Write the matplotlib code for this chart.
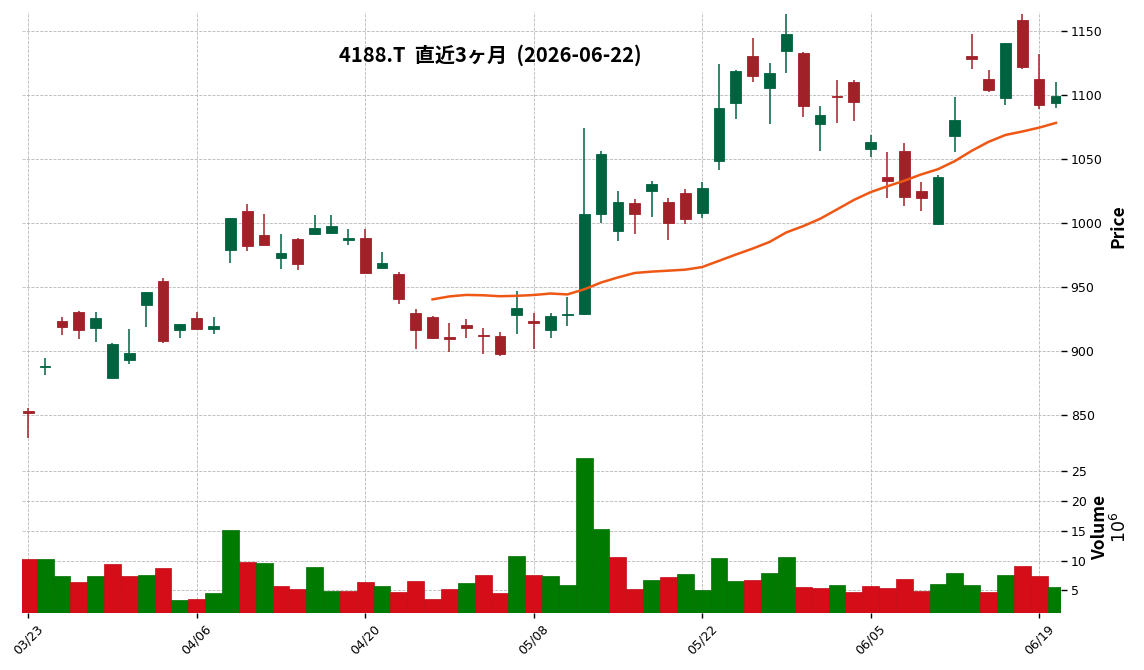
import numpy as np
import pandas as pd
import matplotlib
matplotlib.use("Agg")
import matplotlib.pyplot as plt
from matplotlib.colors import to_rgb

# ---------------- data ----------------
dates = ["03/23", "03/24", "03/25", "03/26", "03/27", "03/30", "03/31", "04/01", "04/02", "04/03",
         "04/06", "04/07", "04/08", "04/09", "04/10", "04/13", "04/14", "04/15", "04/16", "04/17",
         "04/20", "04/21", "04/22", "04/23", "04/24", "04/27", "04/28", "04/30", "05/01", "05/07",
         "05/08", "05/11", "05/12", "05/13", "05/14", "05/15", "05/18", "05/19", "05/20", "05/21",
         "05/22", "05/25", "05/26", "05/27", "05/28", "05/29", "06/01", "06/02", "06/03", "06/04",
         "06/05", "06/08", "06/09", "06/10", "06/11", "06/12", "06/15", "06/16", "06/17", "06/18",
         "06/19", "06/22"]

opens = [853.1, 887.5, 923.7, 930.7, 917.7, 879.2, 892.7, 935.7, 954.9, 916.1,
         926.0, 916.9, 979.4, 1009.6, 990.9, 972.4, 987.8, 991.9, 992.7, 987.2,
         988.5, 964.6, 960.4, 929.9, 926.8, 910.9, 920.6, 912.8, 911.7, 927.9,
         923.7, 916.1, 928.1, 929.2, 1006.8, 993.5, 1015.9, 1025.5, 1016.7, 1023.7,
         1007.6, 1048.4, 1094.0, 1130.6, 1105.8, 1134.8, 1133.2, 1077.5, 1099.7, 1110.2,
         1057.9, 1036.4, 1056.5, 1025.1, 999.7, 1068.1, 1130.6, 1112.6, 1097.9, 1158.9,
         1112.6, 1094.0]
highs = [855.2, 894.3, 926.6, 931.5, 930.5, 906.5, 917.2, 946.4, 957.0, 921.4,
         930.5, 926.6, 1004.2, 1014.8, 1007.0, 991.4, 988.3, 1006.5, 1006.5, 995.3,
         995.3, 977.3, 961.5, 932.6, 927.3, 921.9, 925.0, 918.0, 915.1, 946.9,
         929.4, 929.7, 941.9, 1074.2, 1056.3, 1025.0, 1018.8, 1032.8, 1019.5, 1026.6,
         1032.3, 1124.1, 1119.4, 1145.0, 1124.9, 1163.4, 1133.8, 1091.9, 1112.3, 1112.3,
         1069.1, 1056.0, 1062.8, 1032.2, 1037.7, 1099.0, 1147.6, 1119.4, 1140.8, 1163.4,
         1132.5, 1110.7]
lows = [832.0, 881.3, 912.5, 909.4, 907.0, 878.6, 889.8, 918.8, 906.3, 910.2,
        916.9, 913.3, 968.8, 978.1, 982.6, 964.1, 963.3, 990.6, 991.9, 982.8,
        960.7, 964.6, 937.0, 901.6, 909.1, 899.2, 910.2, 897.7, 896.1, 913.3,
        901.6, 909.9, 919.3, 928.4, 1000.0, 985.9, 991.4, 1004.7, 986.7, 999.2,
        1003.9, 1041.6, 1081.7, 1110.0, 1077.7, 1117.8, 1083.2, 1056.5, 1078.5, 1080.1,
        1052.1, 1019.6, 1013.6, 1009.4, 998.7, 1055.5, 1120.2, 1102.6, 1092.7, 1120.2,
        1089.5, 1090.3]
closes = [851.3, 888.5, 918.5, 916.1, 926.0, 905.7, 898.4, 946.4, 907.6, 921.4,
          916.9, 919.8, 1004.2, 981.8, 983.3, 976.8, 967.7, 996.4, 997.9, 988.3,
          961.2, 969.0, 941.1, 916.1, 910.4, 909.1, 917.7, 911.5, 897.4, 933.9,
          921.6, 927.6, 928.6, 1007.3, 1054.2, 1016.7, 1006.8, 1030.7, 1000.5, 1002.9,
          1027.6, 1089.8, 1118.8, 1115.2, 1117.3, 1147.9, 1091.6, 1084.3, 1098.7, 1094.8,
          1063.1, 1032.7, 1020.2, 1019.6, 1036.4, 1080.4, 1128.5, 1103.9, 1140.8, 1122.3,
          1092.4, 1099.7]
# volume in millions of shares
volumes = [10.28, 10.28, 7.42, 6.40, 7.42, 9.44, 7.42, 7.58, 8.76, 3.37,
           3.54, 4.55, 15.17, 9.78, 9.61, 5.73, 5.22, 8.93, 4.89, 4.89,
           6.40, 5.73, 4.72, 6.57, 3.54, 5.22, 6.24, 7.58, 4.55, 10.79,
           7.58, 7.42, 5.90, 27.30, 15.34, 10.62, 5.22, 6.74, 7.25, 7.75,
           5.06, 10.45, 6.57, 6.74, 7.92, 10.62, 5.56, 5.39, 5.90, 4.72,
           5.73, 5.39, 6.91, 4.89, 6.07, 7.92, 5.90, 4.72, 7.58, 9.10,
           7.42, 5.56]
ma_window = 25
tick_every = 10
title = "4188.T  直近3ヶ月  (2026-06-22)"

# ---------------- style ----------------
UP, DOWN = "#006340", "#a02128"
VUP, VDOWN = "#007a00", "#d50d18"
MA_COLOR = "#ef5714"
GRID = dict(color="#b8b8b8", linestyle="--", linewidth=0.6)
CJK = ["Noto Sans CJK JP", "DejaVu Sans"]

o = np.array(opens); h = np.array(highs); l = np.array(lows); c = np.array(closes)
v = np.array(volumes)
n = len(c)
x = np.arange(n)

candle_col = np.where(c >= o, UP, DOWN)
prev_c = np.concatenate([[o[0]], c[:-1]])
vol_col = np.where(c >= prev_c, VUP, VDOWN)
vol_edge = [tuple(0.9 * ch for ch in to_rgb(col)) for col in vol_col]
ma = pd.Series(c).rolling(ma_window).mean().values

fig = plt.figure(figsize=(11.44, 6.70), dpi=100)
W, H = 1144.0, 670.0
left, right = 22 / W, 1061 / W
p_top, p_bot, v_bot = 12, 441, 613
axp = fig.add_axes([left, 1 - p_bot / H, right - left, (p_bot - p_top) / H])
axv = fig.add_axes([left, 1 - v_bot / H, right - left, (v_bot - p_bot) / H], sharex=axp)

# candles
axp.vlines(x, l, h, colors=candle_col, linewidth=1.1, zorder=2)
body = np.abs(c - o)
axp.bar(x, body, bottom=np.minimum(o, c), width=0.64, color=candle_col,
        edgecolor=candle_col, linewidth=0.6, zorder=3)
axp.plot(x, ma, color=MA_COLOR, linewidth=1.8, zorder=4)

# volume
axv.bar(x, v, width=1.0, color=vol_col, edgecolor=vol_edge, linewidth=0.5, zorder=2)

for ax in (axp, axv):
    for s in ax.spines.values():
        s.set_visible(False)
    ax.yaxis.tick_right()
    ax.yaxis.set_label_position("right")
    ax.grid(True, **GRID)
    ax.set_axisbelow(True)
    ax.tick_params(axis="y", length=4, width=1, labelsize=9, pad=3)

axp.set_xlim(-0.37, n - 1 + 0.3)
axp.set_ylim(829.7, 1165.1)
axp.set_yticks(np.arange(850, 1151, 50))
axp.tick_params(axis="x", length=0, labelbottom=False)

axv.set_ylim(1.18, 30.1)
axv.set_yticks([5, 10, 15, 20, 25])
ticks = x[::tick_every]
axv.set_xticks(ticks)
axv.set_xticklabels([dates[i] for i in ticks], rotation=45, fontsize=9)
axv.tick_params(axis="x", length=3.5, width=1, pad=3)

axp.set_ylabel("Price", fontsize=12.5, fontweight="bold", family=CJK, labelpad=5)
axv.set_ylabel("Volume\n$10^{6}$", fontsize=12.5, fontweight="bold", family=CJK,
               labelpad=3, linespacing=1.1)

fig.text(490 / W, 1 - 55 / H, title, ha="center", va="center", fontsize=14.5,
         fontweight="bold", family=CJK)

fig.savefig("out.png", dpi=100)
